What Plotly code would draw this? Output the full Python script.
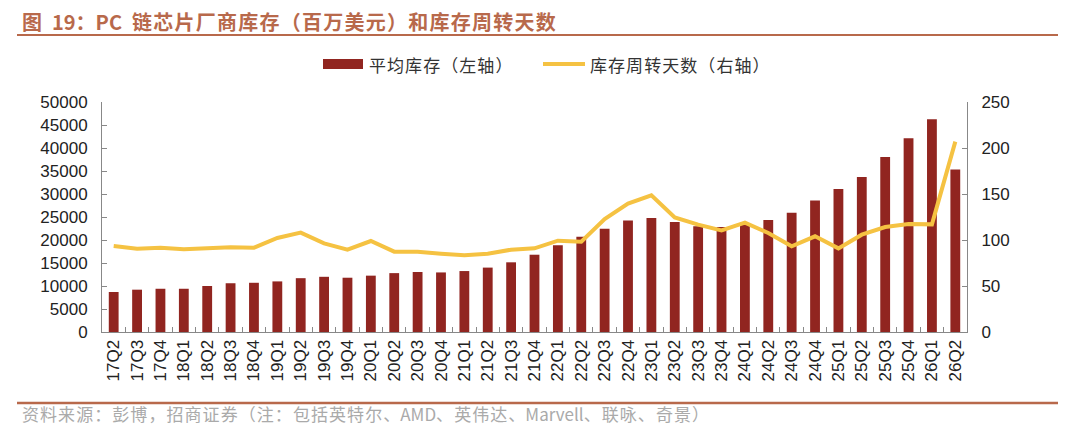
import plotly.graph_objects as go

# 季度
quarters = [
    "17Q2", "17Q3", "17Q4",
    "18Q1", "18Q2", "18Q3", "18Q4",
    "19Q1", "19Q2", "19Q3", "19Q4",
    "20Q1", "20Q2", "20Q3", "20Q4",
    "21Q1", "21Q2", "21Q3", "21Q4",
    "22Q1", "22Q2", "22Q3", "22Q4",
    "23Q1", "23Q2", "23Q3", "23Q4",
    "24Q1", "24Q2", "24Q3", "24Q4",
    "25Q1", "25Q2", "25Q3", "25Q4",
    "26Q1", "26Q2",
]

# 平均库存（百万美元，左轴）
avg_inventory = [
    8700, 9200, 9400,
    9400, 10000, 10600, 10700,
    11000, 11700, 12000, 11800,
    12250, 12800, 13050, 12950,
    13250, 14000, 15150, 16800,
    18850, 20700, 22450, 24250,
    24800, 23900, 23000, 22800,
    23300, 24350, 25950, 28600,
    31100, 33700, 38050, 42100,
    46250, 35300,
]

# 库存周转天数（右轴）
turnover_days = [
    93.5, 90.6, 91.7,
    89.9, 90.9, 92.0, 91.7,
    102.2, 108.0, 96.4, 89.5,
    98.9, 87.3, 87.3, 85.1,
    83.3, 85.1, 89.5, 91.0,
    99.3, 98.2, 122.8, 139.5,
    148.6, 124.6, 116.7, 110.5,
    118.8, 107.6, 93.1, 104.0,
    90.9, 105.8, 114.1, 117.4,
    117.0, 206.9,
]

left_ticks = list(range(0, 50001, 5000))
right_ticks = list(range(0, 251, 50))

title_text = "图 19：PC 链芯片厂商库存（百万美元）和库存周转天数"
source_text = "资料来源：彭博，招商证券（注：包括英特尔、AMD、英伟达、Marvell、联咏、奇景）"
bar_name = "平均库存（左轴）"
line_name = "库存周转天数（右轴）"

title_color = "#B8694B"
bar_color = "#912520"
line_color = "#F5C242"
axis_color = "#888888"

# 绘图区（像素）
L, T, W, H = 94, 94, 865, 230


def px_x(x):
    return (x - L) / W


def px_y(y):
    return 1 - (y - T) / H


def spaced(s, gap):
    # 中文字符之间加宽字距
    out = s[0]
    for a, b in zip(s, s[1:]):
        if ord(a) > 127 and ord(b) > 127:
            out += gap
        out += b
    return out


fig = go.Figure()

fig.add_trace(go.Bar(
    x=quarters, y=avg_inventory, name=bar_name,
    marker=dict(color=bar_color, line=dict(width=0)),
    width=0.42, showlegend=False,
))

fig.add_trace(go.Scatter(
    x=quarters, y=turnover_days, name=line_name,
    mode="lines", line=dict(color=line_color, width=4),
    yaxis="y2", showlegend=False,
))

fig.update_layout(
    width=1080, height=433,
    margin=dict(l=L, r=1080 - L - W, t=T, b=433 - T - H),
    paper_bgcolor="white", plot_bgcolor="white",
    font=dict(family="Liberation Sans, Arial, sans-serif", color="#222222"),
    xaxis=dict(
        type="category", tickangle=-90,
        tickfont=dict(size=17, color="#222222"),
        showline=True, linecolor=axis_color, linewidth=1,
        ticks="inside", ticklen=5, tickcolor=axis_color,
        tickson="boundaries", showgrid=False,
    ),
    yaxis=dict(
        range=[0, 50000], tickvals=left_ticks, ticktext=[str(v) for v in left_ticks],
        tickfont=dict(size=17, color="#222222"), ticklabelstandoff=10,
        showline=True, linecolor=axis_color, linewidth=1,
        ticks="inside", ticklen=5, tickcolor=axis_color,
        showgrid=False, zeroline=False,
    ),
    yaxis2=dict(
        range=[0, 250], tickvals=right_ticks, overlaying="y", side="right",
        tickfont=dict(size=17, color="#222222"), ticklabelstandoff=10,
        showline=True, linecolor=axis_color, linewidth=1,
        ticks="inside", ticklen=5, tickcolor=axis_color,
        showgrid=False, zeroline=False,
    ),
    bargap=0.5,
)

# 图例
fig.add_shape(
    type="rect", xref="paper", yref="paper",
    x0=px_x(315), x1=px_x(355), y0=px_y(51), y1=px_y(61),
    fillcolor=bar_color, line=dict(width=0),
)
fig.add_annotation(
    text=spaced(bar_name, "\u200a"), xref="paper", yref="paper", x=px_x(359), y=px_y(56),
    xanchor="left", yanchor="middle", showarrow=False,
    font=dict(family="Noto Sans CJK SC", size=17, color="#333333"),
)
fig.add_shape(
    type="line", xref="paper", yref="paper",
    x0=px_x(535), x1=px_x(577), y0=px_y(56), y1=px_y(56),
    line=dict(color=line_color, width=4),
)
fig.add_annotation(
    text=spaced(line_name, "\u200a"), xref="paper", yref="paper", x=px_x(580), y=px_y(56),
    xanchor="left", yanchor="middle", showarrow=False,
    font=dict(family="Noto Sans CJK SC", size=17, color="#333333"),
)

# 标题与分隔线
fig.add_annotation(
    text="<b>" + spaced(title_text, "\u200a").replace(" ", "\u2002") + "</b>",
    xref="paper", yref="paper", x=px_x(12), y=px_y(0),
    xanchor="left", yanchor="top", height=22, valign="middle", showarrow=False,
    font=dict(family="Noto Sans CJK SC", size=20, color=title_color),
)
fig.add_shape(
    type="line", xref="paper", yref="paper",
    x0=px_x(9), x1=px_x(1050), y0=px_y(27), y1=px_y(27),
    line=dict(color=title_color, width=2),
)
fig.add_shape(
    type="line", xref="paper", yref="paper",
    x0=px_x(9), x1=px_x(1050), y0=px_y(395), y1=px_y(395),
    line=dict(color=title_color, width=2.5),
)
fig.add_annotation(
    text=spaced(source_text, "\u200a"),
    xref="paper", yref="paper", x=px_x(12), y=px_y(405),
    xanchor="left", yanchor="middle", showarrow=False,
    font=dict(family="Noto Sans CJK SC", size=17, color="#AAAAAA"),
)

fig.write_html("out.html")
